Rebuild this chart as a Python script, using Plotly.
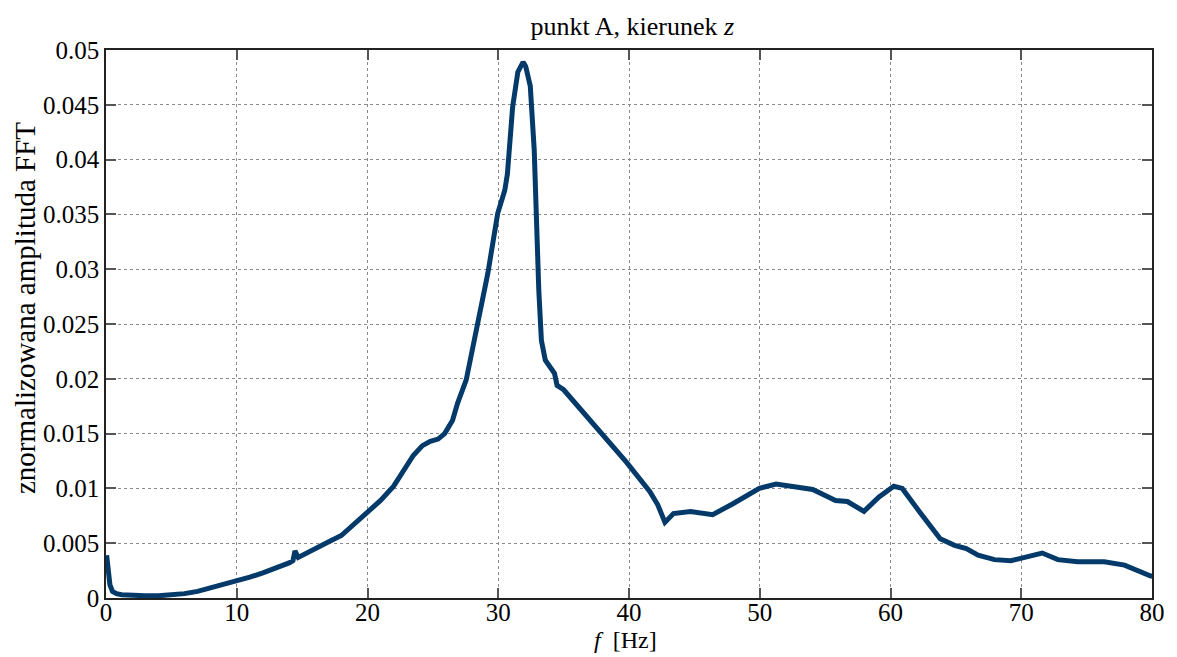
import plotly.graph_objects as go

freq_hz = [
    0.05, 0.15, 0.3, 0.5, 0.8, 1.2, 1.6, 2.0, 3.0, 4.0,
    5.0, 6.0, 7.0, 8.0, 9.0, 10.0, 11.0, 12.0, 13.0, 14.0,
    14.3, 14.45, 14.7, 15.0, 16.0, 17.0, 18.0, 19.0, 20.0, 21.0,
    22.0, 22.8, 23.5, 24.2, 24.8, 25.4, 25.9, 26.5, 26.9, 27.55,
    28.4, 29.2, 29.96, 30.5, 30.7, 31.1, 31.5, 31.9, 32.1, 32.45,
    32.75, 32.9, 33.1, 33.3, 33.6, 34.3, 34.5, 35.0, 36.3, 37.6,
    39.8, 41.6, 42.2, 42.75, 43.4, 44.7, 46.4, 47.95, 49.97, 51.25,
    52.5, 54.05, 55.8, 56.7, 57.97, 59.1, 60.25, 60.9, 62.2, 63.8,
    64.9, 65.8, 66.7, 67.95, 69.2, 70.5, 71.6, 72.8, 74.3, 76.35,
    77.9, 79.9, 80.0,
]
amplitude = [
    0.0039, 0.0030, 0.0012, 0.0006, 0.0004, 0.0003, 0.00027, 0.00022, 0.0002, 0.0002,
    0.00025, 0.0004, 0.0006, 0.0009, 0.0012, 0.0015, 0.0019, 0.0023, 0.0027, 0.0032,
    0.0034, 0.0043, 0.0037, 0.0039, 0.0045, 0.0051, 0.0057, 0.0068, 0.0079, 0.0089,
    0.0102, 0.0118, 0.0130, 0.0139, 0.0143, 0.0145, 0.0150, 0.0162, 0.0178, 0.0199,
    0.0248, 0.0296, 0.0351, 0.0372, 0.0387, 0.0448, 0.0480, 0.0489, 0.0485, 0.0467,
    0.0409, 0.0351, 0.0281, 0.0235, 0.0217, 0.0205, 0.0194, 0.0190, 0.0172, 0.0155,
    0.0124, 0.0097, 0.0085, 0.0069, 0.0077, 0.0079, 0.0076, 0.0086, 0.0100, 0.0104,
    0.0102, 0.0099, 0.0089, 0.0088, 0.0079, 0.0092, 0.0102, 0.0100, 0.0079, 0.0054,
    0.0048, 0.0045, 0.0039, 0.0035, 0.0034, 0.0038, 0.0041, 0.0035, 0.0033, 0.0033,
    0.0030, 0.0020, 0.0020,
]

x_ticks = [0, 10, 20, 30, 40, 50, 60, 70, 80]
y_ticks = [0, 0.005, 0.01, 0.015, 0.02, 0.025, 0.03, 0.035, 0.04, 0.045, 0.05]
y_tick_labels = ["0", "0.005", "0.01", "0.015", "0.02", "0.025", "0.03",
                 "0.035", "0.04", "0.045", "0.05"]

FONT = "Liberation Serif"

fig = go.Figure()
fig.add_trace(go.Scatter(
    x=freq_hz, y=amplitude, mode="lines",
    line=dict(color="#033a6a", width=5),
    showlegend=False,
))

axis_common = dict(
    showline=True, linecolor="#222222", linewidth=1.5, mirror="ticks",
    ticks="inside", ticklen=10, tickcolor="#555555", tickwidth=1.5,
    showgrid=True, gridcolor="#8a8a8a", griddash="dot", gridwidth=1,
    zeroline=False,
    tickfont=dict(family=FONT, size=25, color="black"),
)

# page body has an 8px margin, so the figure is sized/offset to land the plot at the same pixels
fig.update_layout(
    width=1169, height=649,
    margin=dict(l=98, r=19, t=42, b=59),
    paper_bgcolor="white", plot_bgcolor="white",
    font=dict(family=FONT, color="black"),
    title=dict(text="punkt A, kierunek <i>z</i>", x=0.534, xanchor="center",
               y=0.972, yanchor="middle", font=dict(family=FONT, size=26)),
    xaxis=dict(range=[0, 80], tickvals=x_ticks, ticklabelstandoff=-9, **axis_common),
    yaxis=dict(range=[0, 0.05], tickvals=y_ticks, ticktext=y_tick_labels,
               **axis_common),
    annotations=[
        dict(text="<i>f</i>\u00a0\u00a0[Hz]", xref="paper", yref="paper",
             x=0.4967, y=-0.1045, xanchor="center", yanchor="bottom",
             showarrow=False, font=dict(family=FONT, size=24, color="black")),
        dict(text="znormalizowana amplituda FFT", xref="paper", yref="paper",
             x=-0.0775, y=0.529, xanchor="center", yanchor="middle", textangle=-90,
             showarrow=False, font=dict(family=FONT, size=29, color="black")),
    ],
)

fig.write_html("out.html")
